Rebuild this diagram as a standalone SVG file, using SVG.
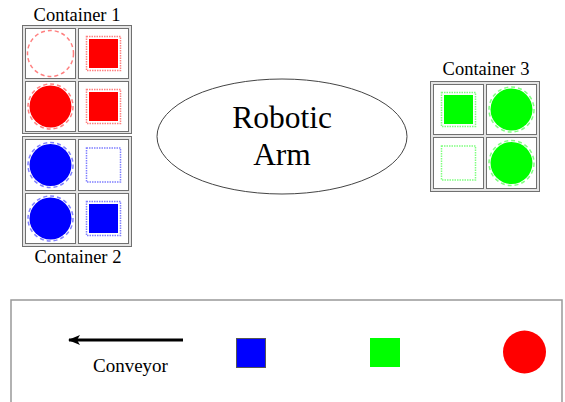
<svg xmlns="http://www.w3.org/2000/svg" width="565" height="402" viewBox="0 0 565 402">
<style>
.t{font-family:"Liberation Serif","DejaVu Serif",serif;fill:#000}
.lbl{font-size:18.5px;text-anchor:middle}
.big{font-size:31.5px;text-anchor:middle}
.outer{fill:#e4e4e4;stroke:#707070;stroke-width:1}
.cell{fill:#fff;stroke:#707070;stroke-width:1}
.cr{fill:none;stroke-width:1.5;stroke-dasharray:4 3}
.sq{fill:none;stroke-width:1.5;stroke-dasharray:1.5 1}
.r{stroke:#ff8080}.b{stroke:#8080ff}.g{stroke:#80ff80}
</style>
<defs>
<marker id="ah" viewBox="0 0 12 10" refX="11" refY="5" markerWidth="12" markerHeight="10" orient="auto" markerUnits="userSpaceOnUse">
<path d="M0,0 L12,5 L0,10 L3,5 Z" fill="#000"/>
</marker>
</defs>
<g id="robotic-arm">
<ellipse cx="282" cy="136.5" rx="125" ry="57.5" fill="#fff" stroke="#444" stroke-width="1"/>
<text class="t big" x="282" y="128">Robotic</text>
<text class="t big" x="282" y="165">Arm</text>
</g>
<g id="container1">
<text class="t lbl" x="77" y="21">Container 1</text>
<rect class="outer" x="22.5" y="25.5" width="109" height="108"/>
<rect class="cell" x="25.5" y="28.5" width="50" height="50"/>
<rect class="cell" x="78.5" y="28.5" width="50" height="50"/>
<rect class="cell" x="25.5" y="81.5" width="50" height="50"/>
<rect class="cell" x="78.5" y="81.5" width="50" height="50"/>
<circle class="cr r" cx="50.5" cy="53.5" r="23"/>
<rect x="89" y="39" width="29" height="29" fill="#f00"/>
<rect class="sq r" x="86.5" y="36.5" width="34" height="34"/>
<circle cx="50.5" cy="106.5" r="21" fill="#f00"/>
<circle class="cr r" cx="50.5" cy="106.5" r="22.5"/>
<rect x="89" y="92" width="29" height="29" fill="#f00"/>
<rect class="sq r" x="86.5" y="89.5" width="34" height="34"/>
</g>
<g id="container2">
<rect class="outer" x="22.5" y="136.5" width="109" height="110"/>
<rect class="cell" x="25.5" y="139.5" width="50" height="51"/>
<rect class="cell" x="78.5" y="139.5" width="50" height="51"/>
<rect class="cell" x="25.5" y="193.5" width="50" height="50"/>
<rect class="cell" x="78.5" y="193.5" width="50" height="50"/>
<circle cx="50.5" cy="165" r="21" fill="#00f"/>
<circle class="cr b" cx="50.5" cy="165" r="22.5"/>
<rect class="sq b" x="86.5" y="148" width="34" height="34"/>
<circle cx="50.5" cy="218.5" r="21" fill="#00f"/>
<circle class="cr b" cx="50.5" cy="218.5" r="22.5"/>
<rect x="89" y="204" width="29" height="29" fill="#00f"/>
<rect class="sq b" x="86.5" y="201.5" width="34" height="34"/>
<text class="t lbl" x="78" y="263">Container 2</text>
</g>
<g id="container3">
<text class="t lbl" x="486" y="75">Container 3</text>
<rect class="outer" x="430.5" y="81.5" width="109" height="110"/>
<rect class="cell" x="433.5" y="84.5" width="50" height="50"/>
<rect class="cell" x="486.5" y="84.5" width="50" height="50"/>
<rect class="cell" x="433.5" y="137.5" width="50" height="51"/>
<rect class="cell" x="486.5" y="137.5" width="50" height="51"/>
<rect x="444" y="95" width="29" height="29" fill="#0f0"/>
<rect class="sq g" x="441.5" y="92.5" width="34" height="34"/>
<circle cx="511.5" cy="109.5" r="21" fill="#0f0"/>
<circle class="cr g" cx="511.5" cy="109.5" r="22.5"/>
<rect class="sq g" x="441.5" y="146" width="34" height="34"/>
<circle cx="511.5" cy="163" r="21" fill="#0f0"/>
<circle class="cr g" cx="511.5" cy="163" r="22.5"/>
</g>
<g id="conveyor">
<rect x="11" y="300" width="551" height="115" fill="#fff" stroke="#999" stroke-width="1.5"/>
<text class="t" font-size="19" x="93" y="372">Conveyor</text>
<rect x="236.5" y="338.5" width="29" height="29" fill="#00f" stroke="#555" stroke-width="1"/>
<rect x="370" y="338" width="30" height="29" fill="#0f0"/>
<circle cx="524.5" cy="352" r="21.5" fill="#f00"/>
</g>
<g id="connectors">
<line x1="183" y1="340" x2="69" y2="340" stroke="#000" stroke-width="3" marker-end="url(#ah)"/>
</g>
</svg>
